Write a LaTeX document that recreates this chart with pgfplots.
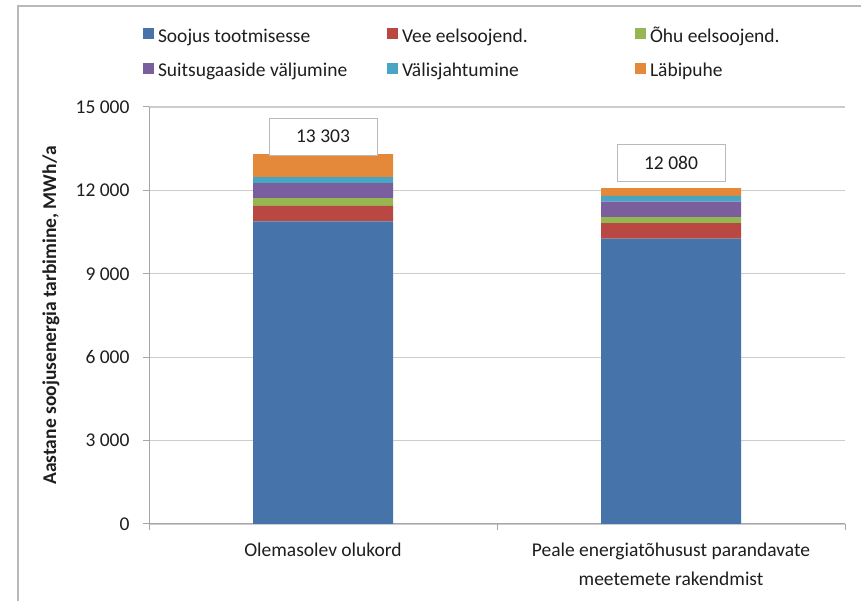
\documentclass[border=0pt]{standalone}
\usepackage{fontspec}
\setmainfont{Carlito}
\usepackage{pgfplots}
\pgfplotsset{compat=1.18}
\definecolor{cBlue}{RGB}{70,115,170}
\definecolor{cRed}{RGB}{185,72,66}
\definecolor{cGreen}{RGB}{150,182,82}
\definecolor{cPurple}{RGB}{122,94,158}
\definecolor{cCyan}{RGB}{72,165,196}
\definecolor{cOrange}{RGB}{228,136,58}
\definecolor{txt}{RGB}{30,30,30}
\newcommand{\cf}{\fontsize{19.5}{23.4}\selectfont}
\begin{document}
\begin{tikzpicture}
\useasboundingbox (0,0) rectangle (861pt,601pt);
\fill[white] (0,0) rectangle (861pt,601pt);
\draw[gray!55, line width=2pt] (18pt,-5pt) -- (18pt,595pt) -- (870pt,595pt);
\begin{axis}[
  at={(149pt,77pt)}, anchor=south west,
  scale only axis, width=696pt, height=417pt,
  ybar stacked, bar width=140pt,
  xmin=-0.5, xmax=1.5, ymin=0, ymax=15000,
  scaled y ticks=false,
  axis lines*=left, axis line style={-, draw=gray!70, line width=1pt},
  tick align=outside, major tick length=6pt,
  tick style={draw=gray!70, line width=1pt},
  xtick={-0.5,0.5,1.5}, xticklabels={},
  extra x ticks={0,1},
  extra x tick labels={Olemasolev olukord,{Peale energiatõhusust parandavate\\meetemete rakendmist}},
  extra x tick style={major tick length=0pt, xticklabel style={align=center, font=\fontsize{19.5}{29.5}\selectfont, text=txt, yshift=-15pt}},
  ytick={0,3000,6000,9000,12000,15000},
  yticklabels={0,3 000,6 000,9 000,12 000,15 000},
  yticklabel style={font=\cf, text=txt, xshift=-10pt},
  ymajorgrids, major grid style={draw=gray!40, line width=1.2pt},
  ylabel={Aastane soojusenergia tarbimine, MWh/a},
  ylabel style={font=\cf\bfseries, text=txt, at={(axis description cs:-0.141,0.5)}, anchor=center},
  legend columns=3,
  legend cell align=left,
  legend style={at={(axis description cs:-0.0086,1.1911)}, anchor=north west,
    draw=none, fill=none, inner sep=0pt, outer sep=0pt, row sep=14.4pt, column sep=0pt,
    font=\cf, text=txt,
    nodes={text height=15pt, text depth=5pt, inner ysep=0pt, inner xsep=4pt}},
  legend image code/.code={\fill[#1] (0pt,-2pt) rectangle (11pt,9pt);},
]
\addplot[fill=cBlue, draw=none] coordinates {(0,10883) (1,10262)};
\addplot[fill=cRed, draw=none] coordinates {(0,563) (1,563)};
\addplot[fill=cGreen, draw=none] coordinates {(0,276) (1,216)};
\addplot[fill=cPurple, draw=none] coordinates {(0,539) (1,559)};
\addplot[fill=cCyan, draw=none] coordinates {(0,215) (1,205)};
\addplot[fill=cOrange, draw=none, point meta=explicit symbolic,
  nodes near coords,
  every node near coord/.append style={anchor=south, yshift=10pt, draw=gray!55, line width=1pt, fill=white,
    minimum width=108pt, minimum height=37pt, inner sep=0pt, font=\cf, text=txt}]
  coordinates {(0,827) [13 303] (1,275) [12 080]};
\addlegendentry{\makebox[225pt][l]{Soojus tootmisesse}}
\addlegendentry{\makebox[229pt][l]{Vee eelsoojend.}}
\addlegendentry{\makebox[160pt][l]{Õhu eelsoojend.}}
\addlegendentry{\makebox[225pt][l]{Suitsugaaside väljumine}}
\addlegendentry{\makebox[229pt][l]{Välisjahtumine}}
\addlegendentry{\makebox[160pt][l]{Läbipuhe}}
\end{axis}
\end{tikzpicture}
\end{document}
